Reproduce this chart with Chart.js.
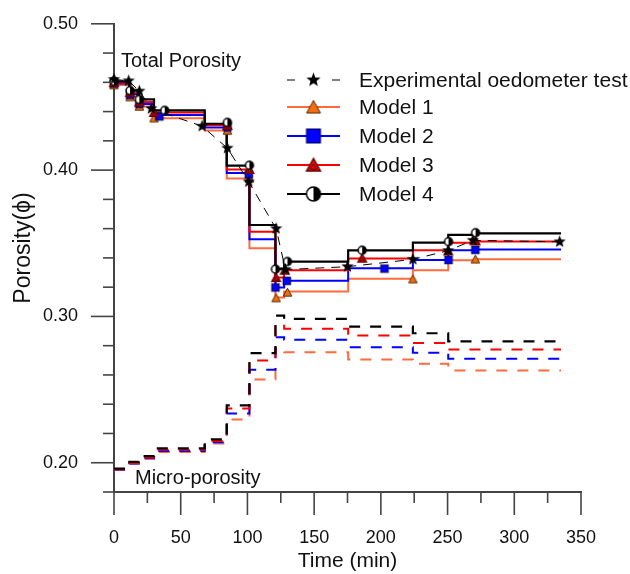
<!DOCTYPE html>
<html>
<head>
<meta charset="utf-8">
<script src="https://cdn.jsdelivr.net/npm/chart.js@4.4.1/dist/chart.umd.min.js"></script>
<style>
html, body { margin: 0; padding: 0; background: #fff; }
#wrap { width: 630px; height: 574px; position: relative; }
</style>
</head>
<body>
<div id="wrap"><canvas id="PorosityChart"></canvas></div>
<script>
// step times (min), last value = end of curves
var stepTimes = [0, 11.5, 18.5, 30, 68, 84.5, 101.5, 121, 127.5, 175.5, 224, 250.5, 270, 335];

// total porosity levels
var total1 = [0.4582, 0.4500, 0.4435, 0.4355, 0.4270, 0.3943, 0.3466, 0.3130, 0.3170, 0.3258, 0.3316, 0.3384, 0.3390];
var total2 = [0.4592, 0.4518, 0.4452, 0.4376, 0.4292, 0.3980, 0.3527, 0.3198, 0.3243, 0.3330, 0.3386, 0.3452, 0.3458];
var total3 = [0.4598, 0.4530, 0.4465, 0.4394, 0.4306, 0.4004, 0.3579, 0.3266, 0.3316, 0.3396, 0.3452, 0.3504, 0.3512];
var total4 = [0.4607, 0.4544, 0.4483, 0.4408, 0.4317, 0.4031, 0.3625, 0.3323, 0.3375, 0.3452, 0.3504, 0.3557, 0.3568];

// micro-porosity levels
var micro1 = [0.1950, 0.1993, 0.2027, 0.2074, 0.2132, 0.2295, 0.2569, 0.2778, 0.2755, 0.2706, 0.2676, 0.2631, 0.2631];
var micro2 = [0.1953, 0.1995, 0.2031, 0.2081, 0.2140, 0.2336, 0.2635, 0.2857, 0.2840, 0.2789, 0.2751, 0.2710, 0.2710];
var micro3 = [0.1955, 0.1998, 0.2036, 0.2088, 0.2149, 0.2370, 0.2699, 0.2944, 0.2915, 0.2869, 0.2819, 0.2774, 0.2774];
var micro4 = [0.1960, 0.2006, 0.2045, 0.2098, 0.2159, 0.2392, 0.2749, 0.3005, 0.2983, 0.2930, 0.2885, 0.2830, 0.2830];

// experimental oedometer test
var expTime = [0, 11, 19, 28, 66, 85, 101, 121.5, 128.5, 175, 224, 250.5, 269, 334];
var expPorosity = [0.462, 0.461, 0.454, 0.442, 0.430, 0.415, 0.392, 0.360, 0.332, 0.334, 0.339, 0.345, 0.352, 0.351];

// model markers
var mark1Time = [0, 12, 19, 30, 85, 101.5, 121.5, 130, 224, 270.8];
var mark1Val = [0.4582, 0.4500, 0.4435, 0.4355, 0.4270, 0.3943, 0.3126, 0.3164, 0.3255, 0.3391];
var mark2Time = [0, 12, 19, 34, 85, 101, 121, 129.5, 202.7, 250.7, 270.8];
var mark2Val = [0.4592, 0.4515, 0.4453, 0.4367, 0.4292, 0.3970, 0.3198, 0.3243, 0.3327, 0.3386, 0.3455];
var mark3Time = [0, 12, 19, 30, 85, 101.5, 121.5, 128, 186, 250.5, 271];
var mark3Val = [0.4598, 0.4530, 0.4465, 0.4394, 0.4306, 0.4004, 0.3266, 0.3316, 0.3398, 0.3448, 0.3516];
var mark4Time = [0, 12, 19, 38, 85, 101.5, 121, 130, 186, 250.7, 271];
var mark4Val = [0.4607, 0.4544, 0.4483, 0.4408, 0.4326, 0.4033, 0.3323, 0.3375, 0.3452, 0.3511, 0.3572];

var xTickLabels = [0, 50, 100, 150, 200, 250, 300, 350];
var yTickLabels = [0.20, 0.30, 0.40, 0.50];

var modelNames = ['Model 1', 'Model 2', 'Model 3', 'Model 4'];
var expName = 'Experimental oedometer test';

var FONT = "'Liberation Sans', Arial, sans-serif";
Chart.defaults.font.family = FONT;

var col1 = '#ff6b3d', col2 = '#0000ff', col3 = '#ff0000', col4 = '#000000';

function makeMarker(kind, size) {
  var s = Math.ceil(size) + 4;
  var c = document.createElement('canvas');
  c.width = s; c.height = s;
  var g = c.getContext('2d');
  var m = s / 2, r = size / 2, k, a, rr;
  if (kind === 'star') {
    g.beginPath();
    for (k = 0; k < 10; k++) {
      a = -Math.PI / 2 + k * Math.PI / 5;
      rr = k % 2 === 0 ? r : r * 0.42;
      g.lineTo(m + rr * Math.cos(a), m + rr * Math.sin(a));
    }
    g.closePath();
    g.fillStyle = '#000';
    g.fill();
  } else if (kind === 'tri1' || kind === 'tri3') {
    var h = r * 0.866;
    g.beginPath();
    g.moveTo(m, m - h - 0.5);
    g.lineTo(m + r, m + h);
    g.lineTo(m - r, m + h);
    g.closePath();
    g.fillStyle = kind === 'tri1' ? '#f07010' : '#e01010';
    g.fill();
    g.lineWidth = kind === 'tri1' ? 1 : 1.4;
    g.strokeStyle = kind === 'tri1' ? '#5a2a00' : '#700000';
    g.stroke();
    if (kind === 'tri3') {
      var r2 = r * 0.45, h2 = r2 * 0.866;
      g.beginPath();
      g.moveTo(m, m + h * 0.25 - h2);
      g.lineTo(m + r2, m + h * 0.25 + h2);
      g.lineTo(m - r2, m + h * 0.25 + h2);
      g.closePath();
      g.lineWidth = 1;
      g.stroke();
    }
  } else if (kind === 'square') {
    g.fillStyle = '#0000ff';
    g.fillRect(m - r, m - r, 2 * r, 2 * r);
    g.lineWidth = 1;
    g.strokeStyle = '#000050';
    g.strokeRect(m - r, m - r, 2 * r, 2 * r);
  } else if (kind === 'half') {
    g.beginPath();
    g.arc(m, m, r, 0, Math.PI * 2);
    g.fillStyle = '#fff';
    g.fill();
    g.beginPath();
    g.moveTo(m, m - r);
    g.arc(m, m, r, -Math.PI / 2, Math.PI / 2);
    g.closePath();
    g.fillStyle = '#000';
    g.fill();
    g.beginPath();
    g.arc(m, m, r, 0, Math.PI * 2);
    g.lineWidth = 1.5;
    g.strokeStyle = '#000';
    g.stroke();
  }
  return c;
}

var starPt = makeMarker('star', 13), starLg = makeMarker('star', 15);
var tri1Pt = makeMarker('tri1', 8.5), tri1Lg = makeMarker('tri1', 14);
var sqPt = makeMarker('square', 7.5), sqLg = makeMarker('square', 14);
var tri3Pt = makeMarker('tri3', 8.5), tri3Lg = makeMarker('tri3', 14);
var halfPt = makeMarker('half', 8), halfLg = makeMarker('half', 14);

function stepPoints(levels) {
  var pts = [], i;
  for (i = 0; i < levels.length; i++) pts.push({x: stepTimes[i], y: levels[i]});
  pts.push({x: stepTimes[stepTimes.length - 1], y: levels[levels.length - 1]});
  return pts;
}
function pairPoints(xs, ys) {
  var pts = [], i;
  for (i = 0; i < xs.length; i++) pts.push({x: xs[i], y: ys[i]});
  return pts;
}
function stepLine(levels, color, dashed, order) {
  return {
    data: stepPoints(levels), stepped: true, borderColor: color,
    borderWidth: color === col4 ? 2.2 : 2, borderDash: dashed ? [11, 10] : [],
    pointRadius: 0, fill: false, order: order
  };
}
function markerSet(xs, ys, img, order) {
  return {
    data: pairPoints(xs, ys), showLine: false, pointStyle: img,
    pointRadius: 4, clip: false, order: order
  };
}

// legend drawn by hand (line + marker + text)
var legendItems = [
  {label: expName, color: '#000', width: 1.2, dash: [8, 37], img: starLg},
  {label: modelNames[0], color: col1, width: 2, dash: [], img: tri1Lg},
  {label: modelNames[1], color: col2, width: 2, dash: [], img: sqLg},
  {label: modelNames[2], color: col3, width: 2, dash: [], img: tri3Lg},
  {label: modelNames[3], color: col4, width: 2, dash: [], img: halfLg}
];
var legendRows = [80, 107, 136, 165, 194];

var extrasPlugin = {
  id: 'extras',
  afterDraw: function(chart) {
    var ctx = chart.ctx, xs = chart.scales.x, ys = chart.scales.y;
    var area = chart.chartArea, i, t, p, len;
    ctx.save();
    // tick marks
    ctx.strokeStyle = '#444';
    ctx.lineWidth = 1.6;
    ys.ticks.forEach(function(tk) {
      p = ys.getPixelForValue(tk.value);
      len = yTickLabels.some(function(v) { return Math.abs(v - tk.value) < 1e-6; }) ? 23 : 11;
      ctx.beginPath(); ctx.moveTo(area.left - len, p); ctx.lineTo(area.left, p); ctx.stroke();
    });
    xs.ticks.forEach(function(tk) {
      p = xs.getPixelForValue(tk.value);
      len = xTickLabels.indexOf(tk.value) >= 0 ? 23 : 11;
      ctx.beginPath(); ctx.moveTo(p, area.bottom); ctx.lineTo(p, area.bottom + len); ctx.stroke();
    });
    // y title
    ctx.fillStyle = '#111';
    ctx.font = '23px ' + FONT;
    ctx.textAlign = 'center';
    ctx.textBaseline = 'middle';
    ctx.translate(24, 248);
    ctx.rotate(-Math.PI / 2);
    ctx.fillText('Porosity(\u03D5)', 0, 0);
    ctx.setTransform(1, 0, 0, 1, 0, 0);
    ctx.restore();

    ctx.save();
    // annotations
    ctx.fillStyle = '#111';
    ctx.font = '20px ' + FONT;
    ctx.textAlign = 'left';
    ctx.textBaseline = 'alphabetic';
    ctx.fillText('Total Porosity', 121, 67);
    ctx.fillText('Micro-porosity', 135, 484);
    // legend
    ctx.font = '21px ' + FONT;
    ctx.textBaseline = 'middle';
    for (i = 0; i < legendItems.length; i++) {
      t = legendItems[i];
      ctx.beginPath();
      ctx.setLineDash(t.dash);
      ctx.strokeStyle = t.color;
      ctx.lineWidth = t.width;
      ctx.moveTo(287, legendRows[i]);
      ctx.lineTo(340, legendRows[i]);
      ctx.stroke();
      ctx.setLineDash([]);
      ctx.drawImage(t.img, 313.5 - t.img.width / 2, legendRows[i] - t.img.height / 2);
      ctx.fillStyle = '#111';
      ctx.fillText(t.label, 359, legendRows[i] + 1);
    }
    ctx.restore();
  }
};

var ctx = document.getElementById('PorosityChart').getContext('2d');
var myChart = new Chart(ctx, {
  type: 'line',
  data: {
    datasets: [
      {
        label: expName, data: pairPoints(expTime, expPorosity),
        borderColor: '#000', borderWidth: 1, borderDash: [9, 7],
        pointStyle: starPt, pointRadius: 5, clip: false, fill: false, order: 0
      },
      markerSet(mark4Time, mark4Val, halfPt, 1),
      markerSet(mark3Time, mark3Val, tri3Pt, 2),
      markerSet(mark2Time, mark2Val, sqPt, 3),
      markerSet(mark1Time, mark1Val, tri1Pt, 4),
      stepLine(total4, col4, false, 5),
      stepLine(total3, col3, false, 6),
      stepLine(total2, col2, false, 7),
      stepLine(total1, col1, false, 8),
      stepLine(micro4, col4, true, 9),
      stepLine(micro3, col3, true, 10),
      stepLine(micro2, col2, true, 11),
      stepLine(micro1, col1, true, 12)
    ]
  },
  options: {
    responsive: true,
    maintainAspectRatio: false,
    animation: false,
    layout: {padding: {top: 22, right: 49, left: 0, bottom: 0}},
    plugins: {legend: {display: false}, tooltip: {enabled: false}},
    scales: {
      x: {
        type: 'linear', min: 0, max: 350,
        ticks: {
          stepSize: 25, autoSkip: false, maxRotation: 0, padding: 12,
          color: '#111', font: {size: 18},
          callback: function(v) { return xTickLabels.indexOf(v) >= 0 ? String(v) : ''; }
        },
        grid: {display: true, drawOnChartArea: false, drawTicks: true, tickLength: 23, color: 'rgba(0,0,0,0)'},
        border: {display: true, color: '#444', width: 2},
        title: {display: true, text: 'Time (min)', color: '#111', font: {size: 21}, padding: {top: 0, bottom: 0}},
        afterFit: function(s) { s.height = 82; }
      },
      y: {
        type: 'linear', min: 0.18, max: 0.50,
        ticks: {
          stepSize: 0.02, autoSkip: false, padding: 13,
          color: '#111', font: {size: 18},
          callback: function(v) {
            for (var i = 0; i < yTickLabels.length; i++) {
              if (Math.abs(yTickLabels[i] - v) < 1e-6) return yTickLabels[i].toFixed(2);
            }
            return '';
          }
        },
        grid: {display: true, drawOnChartArea: false, drawTicks: true, tickLength: 23, color: 'rgba(0,0,0,0)'},
        border: {display: true, color: '#444', width: 2},
        afterFit: function(s) { s.width = 114; }
      }
    }
  },
  plugins: [extrasPlugin]
});
</script>
</body>
</html>
